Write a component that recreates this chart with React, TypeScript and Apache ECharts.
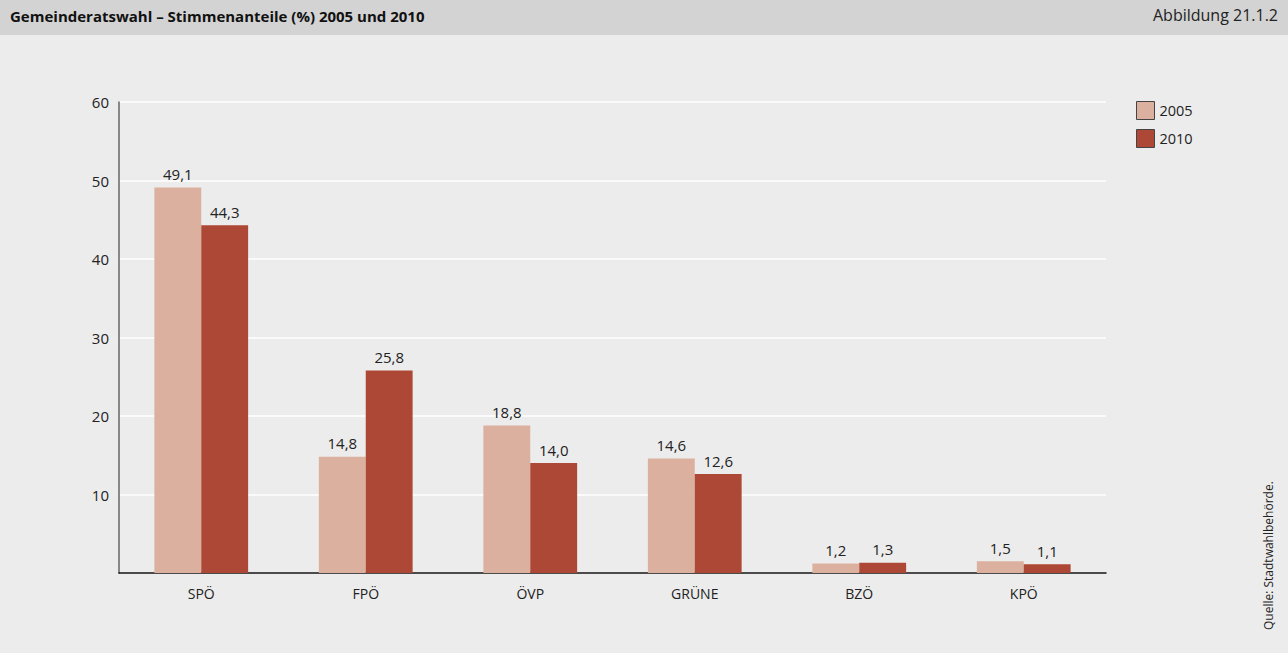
import React, { useEffect, useRef } from "react";
import * as echarts from "echarts";

const categories = ["SPÖ", "FPÖ", "ÖVP", "GRÜNE", "BZÖ", "KPÖ"];
const values2005 = [49.1, 14.8, 18.8, 14.6, 1.2, 1.5];
const values2010 = [44.3, 25.8, 14.0, 12.6, 1.3, 1.1];
const seriesNames = ["2005", "2010"];
const title = "Gemeinderatswahl – Stimmenanteile (%) 2005 und 2010";
const figureLabel = "Abbildung 21.1.2";
const source = "Quelle: Stadtwahlbehörde.";

const FONT = "'Open Sans', 'Noto Sans', sans-serif";

export default function App() {
  const ref = useRef<HTMLDivElement>(null);
  useEffect(() => {
    if (!ref.current) return;
    const chart = echarts.init(ref.current, undefined, { renderer: "svg" });
    const fmt = (p: any) => Number(p.value).toFixed(1).replace(".", ",");
    chart.setOption({
      animation: false,
      backgroundColor: "#ececec",
      textStyle: { fontFamily: FONT },
      graphic: [
        { type: "rect", left: 0, top: 0, shape: { width: 1288, height: 35 }, style: { fill: "#d3d3d3" }, silent: true },
        { type: "text", left: 10, top: 8, style: { text: title, fontFamily: FONT, fontWeight: "bold", fontSize: 15, fill: "#111" } },
        { type: "text", right: 10, top: 7, style: { text: figureLabel, fontFamily: FONT, fontSize: 16, fill: "#222" } },
        {
          type: "text",
          x: 1268,
          y: 630,
          rotation: Math.PI / 2,
          style: { text: source, fontFamily: FONT, fontSize: 12, fill: "#222", align: "left", verticalAlign: "middle" },
        },
      ],
      legend: {
        orient: "vertical",
        left: 1131,
        top: 96,
        itemWidth: 18,
        itemHeight: 18,
        itemGap: 9,
        icon: "rect",
        itemStyle: { borderColor: "#444", borderWidth: 1 },
        textStyle: { fontFamily: FONT, fontSize: 14.5, color: "#222" },
        data: seriesNames,
      },
      grid: { left: 119, right: 1288 - 1106, top: 102, bottom: 653 - 573, containLabel: false },
      xAxis: {
        type: "category",
        data: categories,
        axisLine: { lineStyle: { color: "#111", width: 1.5 } },
        axisTick: { show: false },
        axisLabel: { fontFamily: FONT, fontSize: 14, color: "#222", margin: 13 },
      },
      yAxis: {
        type: "value",
        min: 0,
        max: 60,
        interval: 10,
        axisLine: { show: true, lineStyle: { color: "#666", width: 1.5 } },
        axisTick: { show: false },
        axisLabel: {
          fontFamily: FONT,
          fontSize: 15,
          color: "#222",
          margin: 10,
          formatter: (v: number) => (v === 0 ? "" : String(v)),
        },
        splitLine: { lineStyle: { color: "#ffffff", width: 1.5 } },
      },
      series: [
        {
          name: seriesNames[0],
          type: "bar",
          data: values2005,
          barGap: "0%",
          barCategoryGap: "43%",
          itemStyle: { color: "#dbb09e", borderWidth: 0 },
          label: { show: true, position: "top", distance: 6, formatter: fmt, fontFamily: FONT, fontSize: 15, color: "#222" },
        },
        {
          name: seriesNames[1],
          type: "bar",
          data: values2010,
          itemStyle: { color: "#ae4836", borderWidth: 0 },
          label: { show: true, position: "top", distance: 6, formatter: fmt, fontFamily: FONT, fontSize: 15, color: "#222" },
        },
      ],
    });
    return () => chart.dispose();
  }, []);
  return <div ref={ref} style={{ position: "fixed", left: 0, top: 0, width: 1288, height: 653 }} />;
}
